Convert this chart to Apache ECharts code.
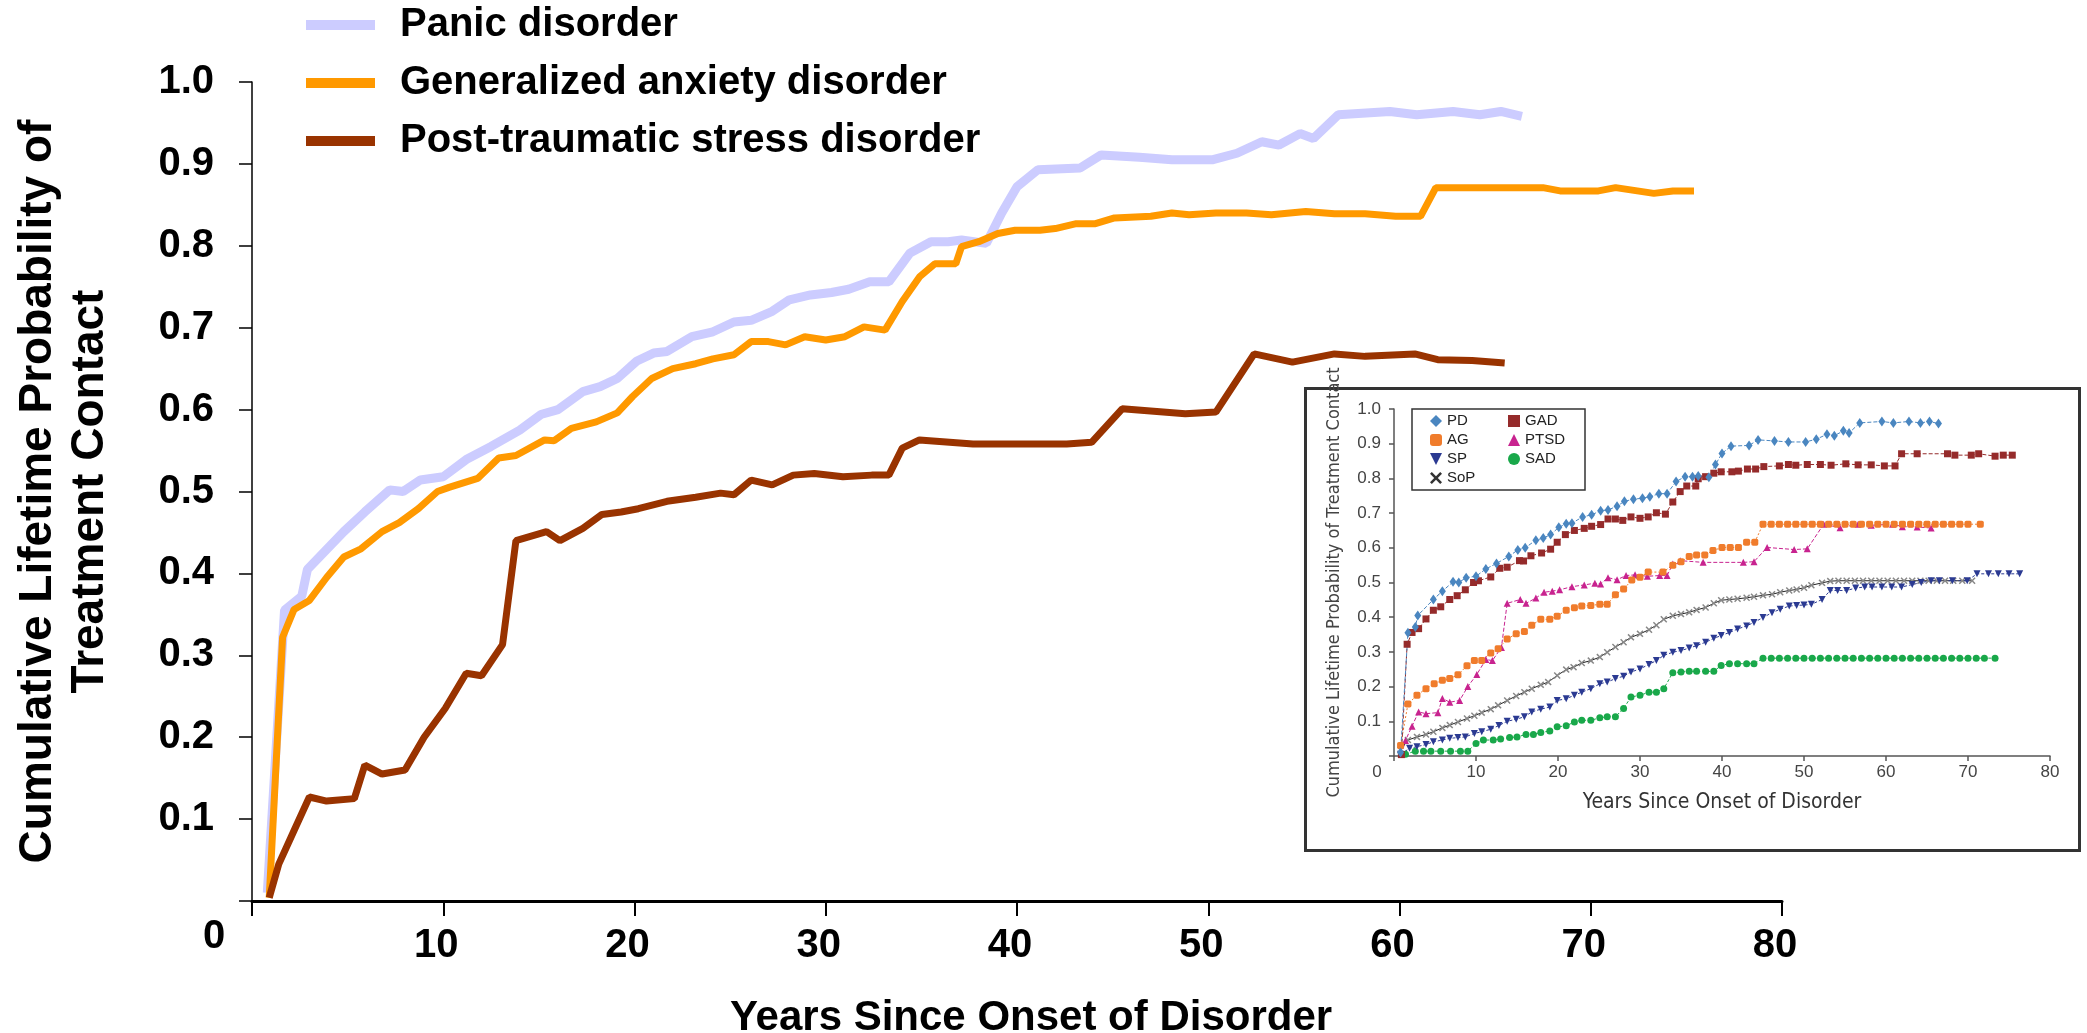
<!DOCTYPE html>
<html>
<head>
<meta charset="utf-8">
<title>Cumulative Lifetime Probability of Treatment Contact</title>
<script src="https://cdn.jsdelivr.net/npm/echarts/dist/echarts.min.js"></script>
<style>
  html, body { margin: 0; padding: 0; background: #fff; }
  #chart { width: 2087px; height: 1033px; }
</style>
</head>
<body>
<div id="chart"></div>
<script>
  // 主图数据：[年份, 累计概率]
  const panic = [[0.8,0.01],[1.7,0.355],[2.6,0.372],[2.9,0.405],[4.8,0.451],[5.9,0.475],[7.2,0.502],[7.9,0.5],[8.8,0.514],[10,0.518],[11.2,0.539],[12.5,0.555],[14,0.575],[15.1,0.594],[16,0.6],[17.3,0.622],[18.2,0.628],[19.1,0.638],[20.1,0.659],[21,0.669],[21.7,0.671],[23,0.689],[24.1,0.695],[25.2,0.707],[26.1,0.709],[27.2,0.72],[28.1,0.734],[29.2,0.74],[30.3,0.743],[31.2,0.747],[32.3,0.756],[33.3,0.756],[34.4,0.791],[35.5,0.805],[36.4,0.805],[37.1,0.807],[38.4,0.803],[39.2,0.84],[40,0.872],[41.1,0.893],[43.3,0.895],[44.4,0.911],[46.4,0.908],[48.1,0.905],[50.2,0.905],[51.5,0.913],[52.8,0.927],[53.7,0.923],[54.8,0.937],[55.5,0.931],[56.8,0.96],[59.5,0.964],[60.9,0.96],[62.8,0.964],[64.2,0.96],[65.3,0.964],[66.4,0.958]]
  const gad = [[0.9,0.004],[1.6,0.322],[2.2,0.356],[3,0.367],[3.9,0.395],[4.8,0.42],[5.7,0.43],[6.8,0.451],[7.7,0.462],[8.7,0.479],[9.7,0.5],[10.3,0.505],[11.8,0.516],[12.9,0.541],[13.8,0.544],[15.3,0.563],[15.8,0.562],[16.7,0.577],[18,0.585],[19.1,0.596],[19.9,0.616],[20.9,0.638],[22,0.65],[23.2,0.656],[24.1,0.662],[25.2,0.667],[26.1,0.683],[27,0.683],[27.9,0.679],[28.9,0.689],[30,0.685],[31,0.689],[32,0.701],[33.1,0.697],[34,0.732],[34.9,0.762],[35.7,0.778],[36.8,0.778],[37.1,0.799],[38,0.805],[39,0.815],[39.9,0.819],[41.2,0.819],[42,0.821],[43.1,0.827],[44.1,0.827],[45.1,0.834],[47,0.836],[48.1,0.84],[49,0.838],[50.4,0.84],[52,0.84],[53.3,0.838],[55.1,0.842],[56.6,0.839],[58.2,0.839],[59.8,0.836],[61.1,0.836],[61.9,0.871],[63.8,0.871],[67.5,0.871],[68.4,0.867],[70.4,0.867],[71.3,0.871],[73.3,0.864],[74.3,0.867],[75.4,0.867]]
  const ptsd = [[0.9,0.004],[1.4,0.045],[2.2,0.086],[3,0.127],[3.9,0.122],[5.35,0.125],[5.9,0.166],[6.8,0.155],[8,0.16],[9,0.2],[10.1,0.235],[11.2,0.278],[12,0.275],[13.1,0.313],[13.8,0.44],[15.4,0.451],[16.1,0.44],[17.3,0.455],[18.3,0.472],[19.3,0.475],[20.2,0.479],[21.7,0.488],[23.2,0.493],[24.5,0.498],[25.2,0.496],[26.1,0.514],[27.2,0.508],[28.3,0.52],[29.4,0.522],[30.9,0.518],[32.4,0.52],[33.3,0.52],[34,0.553],[34.9,0.563],[37.7,0.558],[42.6,0.558],[43.9,0.56],[45.5,0.601],[48.8,0.595],[50.4,0.597],[52.4,0.668],[54.4,0.658],[56.6,0.668],[58.2,0.665],[60.8,0.668],[62,0.661],[63.8,0.66],[65.5,0.657]]

  // 插图（原始图片）中的其余障碍
  const ag = [[0.8,0.03],[1.7,0.15],[2.8,0.175],[3.9,0.194],[4.9,0.208],[5.9,0.218],[6.8,0.223],[7.8,0.234],[8.9,0.26],[9.8,0.275],[10.7,0.275],[11.8,0.297],[12.7,0.309],[13.8,0.337],[14.9,0.352],[15.9,0.359],[16.8,0.377],[17.9,0.394],[19,0.394],[19.9,0.403],[21,0.42],[22,0.427],[22.9,0.432],[24,0.434],[25.1,0.437],[26,0.437],[27,0.465],[28,0.481],[29,0.507],[30,0.515],[31,0.53],[32.8,0.53],[34,0.55],[35,0.56],[36,0.575],[36.9,0.579],[37.9,0.579],[38.9,0.592],[40,0.601],[41,0.601],[42,0.601],[43,0.616],[44,0.616],[45,0.668],[46,0.668],[47,0.668],[48,0.668],[49,0.668],[50,0.668],[51,0.668],[52,0.668],[53,0.668],[54,0.668],[55,0.668],[56,0.668],[57,0.668],[58,0.668],[59,0.668],[60,0.668],[61,0.668],[62,0.668],[63,0.668],[64,0.668],[65,0.668],[66,0.668],[67,0.668],[68,0.668],[69,0.668],[70,0.668],[71.5,0.668]]
  const sp = [[0.8,0.005],[1.9,0.022],[2.8,0.027],[3.9,0.033],[4.8,0.041],[5.9,0.046],[6.8,0.051],[7.8,0.053],[8.7,0.055],[9.8,0.065],[10.7,0.07],[11.8,0.077],[12.8,0.088],[13.8,0.1],[14.9,0.106],[15.9,0.113],[16.8,0.127],[17.9,0.135],[19,0.141],[19.9,0.16],[21,0.165],[22,0.175],[22.9,0.184],[24,0.194],[25.1,0.208],[26,0.213],[27,0.223],[28,0.23],[28.9,0.242],[30,0.251],[31.1,0.264],[32,0.275],[32.9,0.29],[34,0.299],[35,0.304],[36,0.311],[36.9,0.318],[38,0.328],[39,0.339],[39.9,0.347],[40.9,0.356],[41.9,0.366],[43,0.375],[43.9,0.385],[45,0.399],[46.1,0.413],[47.1,0.423],[48.2,0.432],[49.1,0.434],[50,0.435],[50.9,0.437],[52.2,0.451],[53.2,0.477],[54.1,0.477],[55.2,0.477],[56.3,0.484],[57.4,0.487],[58.3,0.487],[59.5,0.487],[60.7,0.487],[61.9,0.487],[63.2,0.494],[64.3,0.5],[65.5,0.505],[66.5,0.505],[68.1,0.505],[69.9,0.505],[71.1,0.525],[72.5,0.525],[73.7,0.525],[75,0.525],[76.3,0.525]]
  const sop = [[0.8,0.017],[1.7,0.046],[2.8,0.055],[3.9,0.062],[4.8,0.07],[5.9,0.081],[6.8,0.089],[7.8,0.098],[8.9,0.108],[9.8,0.116],[10.7,0.125],[11.8,0.135],[12.7,0.146],[13.8,0.16],[14.9,0.173],[15.9,0.184],[16.8,0.194],[17.9,0.205],[18.8,0.213],[19.9,0.232],[21,0.249],[21.9,0.256],[22.9,0.268],[24,0.275],[25.1,0.285],[26,0.299],[27,0.314],[28,0.328],[28.9,0.342],[30,0.352],[31.1,0.364],[32,0.377],[32.9,0.394],[34,0.404],[35,0.409],[36,0.414],[36.9,0.421],[38,0.428],[39,0.44],[39.9,0.449],[40.9,0.451],[41.9,0.453],[43,0.456],[43.9,0.459],[45,0.463],[46.1,0.466],[47.1,0.472],[48.2,0.477],[49.1,0.48],[50,0.485],[50.9,0.492],[52.2,0.499],[53.2,0.504],[54.2,0.505],[55.2,0.505],[56.2,0.505],[57.2,0.505],[58.2,0.505],[59.2,0.505],[60.2,0.505],[61.2,0.505],[62.2,0.505],[63.2,0.505],[64.2,0.505],[65.2,0.505],[66.2,0.505],[67.2,0.505],[68.2,0.505],[69.3,0.505],[70.5,0.505]]
  const sad = [[1.4,0.005],[2.6,0.014],[3.6,0.014],[4.5,0.014],[5.7,0.014],[6.9,0.014],[8.1,0.014],[9,0.014],[10,0.036],[10.9,0.046],[12.1,0.046],[13,0.049],[14.1,0.053],[15,0.055],[16.1,0.062],[17,0.062],[17.9,0.068],[19,0.072],[19.9,0.084],[21,0.087],[22,0.098],[22.9,0.103],[24,0.103],[25.1,0.11],[26,0.113],[27,0.113],[28,0.137],[28.9,0.17],[30,0.175],[31.1,0.184],[32,0.184],[32.9,0.194],[34,0.24],[35,0.242],[36,0.244],[36.9,0.244],[38,0.244],[39,0.244],[39.9,0.261],[40.9,0.266],[41.9,0.266],[43,0.266],[43.9,0.266],[45,0.282],[46,0.282],[47,0.282],[48,0.282],[49,0.282],[50,0.282],[51,0.282],[52,0.282],[53,0.282],[54,0.282],[55,0.282],[56,0.282],[57,0.282],[58,0.282],[59,0.282],[60,0.282],[61,0.282],[62,0.282],[63,0.282],[64,0.282],[65,0.282],[66,0.282],[67,0.282],[68,0.282],[69,0.282],[70,0.282],[71,0.282],[72,0.282],[73.3,0.282]]

  const mainNames = ['Panic disorder', 'Generalized anxiety disorder', 'Post-traumatic stress disorder']
  const insetNames = ['PD', 'AG', 'SP', 'SoP', 'GAD', 'PTSD', 'SAD']

  const FONT = "'Liberation Sans', Arial, sans-serif"
  const NARROW = "'Liberation Sans Narrow', 'DejaVu Sans Condensed', sans-serif"
  // 倒三角和 X 形标记
  const downTri = 'path://M0,0L10,0L5,10Z'
  const xMark = 'path://M0,1.5L1.5,0L5,3.5L8.5,0L10,1.5L6.5,5L10,8.5L8.5,10L5,6.5L1.5,10L0,8.5L3.5,5Z'

  // 插图折线的公共样式
  function insetLine (name, data, color, symbol, size, dash) {
    return {
      name: name,
      type: 'line',
      xAxisIndex: 1,
      yAxisIndex: 1,
      data: data,
      symbol: symbol,
      symbolSize: size,
      showSymbol: true,
      itemStyle: { color: color },
      lineStyle: { color: color, width: 1, type: dash },
      z: 5
    }
  }

  const option = {
    animation: false,
    backgroundColor: '#fff',
    textStyle: { fontFamily: FONT },
    //插图外框
    graphic: [{
      type: 'rect',
      shape: { x: 1305.5, y: 388.5, width: 774, height: 462 },
      style: { fill: '#fff', stroke: '#333', lineWidth: 3 },
      z: -1
    }],
    legend: [
      {
        orient: 'vertical',
        left: 306,
        top: 5,
        padding: 0,
        itemWidth: 69,
        itemHeight: 10,
        itemGap: 18,
        icon: 'rect',
        textStyle: { fontSize: 40, fontWeight: 'bold', color: '#000', lineHeight: 40, padding: [0, 0, 0, 20], fontFamily: FONT },
        data: mainNames
      },
      {
        orient: 'vertical',
        left: 1412,
        top: 409,
        height: 80,
        padding: [4, 2, 4, 18],
        itemWidth: 12,
        itemHeight: 12,
        itemGap: 3,
        borderColor: '#333',
        borderWidth: 1.5,
        textStyle: { fontSize: 15, color: '#222', width: 58, lineHeight: 16, fontFamily: FONT },
        data: [
          { name: 'PD', icon: 'diamond' },
          { name: 'AG', icon: 'roundRect' },
          { name: 'SP', icon: downTri },
          { name: 'SoP', icon: xMark, itemStyle: { color: '#333' } },
          { name: 'GAD', icon: 'rect' },
          { name: 'PTSD', icon: 'triangle' },
          { name: 'SAD', icon: 'circle' }
        ]
      }
    ],
    grid: [
      { left: 252, top: 82, width: 1530, height: 819, containLabel: false, outerBoundsMode: 'none' },
      { left: 1394, top: 409, width: 656, height: 347, containLabel: false, outerBoundsMode: 'none' }
    ],
    xAxis: [
      {
        type: 'value',
        gridIndex: 0,
        min: 0,
        max: 80,
        interval: 10,
        name: 'Years Since Onset of Disorder',
        nameLocation: 'middle',
        nameGap: 96,
        nameMoveOverlap: false,
        nameTextStyle: { fontSize: 42, fontWeight: 'bold', color: '#000', padding: [0, 0, 0, 28], fontFamily: FONT },
        axisLine: { lineStyle: { color: '#000', width: 3 } },
        axisTick: { length: 15, lineStyle: { color: '#000', width: 2 } },
        splitLine: { show: false },
        axisLabel: {
          margin: 25,
          fontSize: 40,
          fontWeight: 'bold',
          color: '#000',
          fontFamily: FONT,
          padding: [0, 14, 0, 0],
          formatter: function (v) { return v === 0 ? '{z|0}' : String(v) },
          rich: { z: { fontSize: 40, fontWeight: 'bold', color: '#000', fontFamily: FONT, lineHeight: 22, padding: [0, 62, 0, 0] } }
        }
      },
      {
        type: 'value',
        gridIndex: 1,
        min: 0,
        max: 80,
        interval: 10,
        name: 'Years Since Onset of Disorder',
        nameLocation: 'middle',
        nameGap: 36,
        nameMoveOverlap: false,
        nameTextStyle: { fontSize: 21, color: '#333', fontFamily: NARROW },
        axisLine: { lineStyle: { color: '#555', width: 1.5 } },
        axisTick: { length: 5, lineStyle: { color: '#555', width: 1.5 } },
        splitLine: { show: false },
        axisLabel: {
          margin: 8,
          fontSize: 17,
          color: '#444',
          fontFamily: FONT,
          formatter: function (v) { return v === 0 ? '{z|0}' : String(v) },
          rich: { z: { fontSize: 17, color: '#444', fontFamily: FONT, padding: [0, 34, 0, 0] } }
        }
      }
    ],
    yAxis: [
      {
        type: 'value',
        gridIndex: 0,
        min: 0,
        max: 1,
        interval: 0.1,
        name: 'Cumulative Lifetime Probability of\nTreatment Contact',
        nameLocation: 'middle',
        nameRotate: 90,
        nameGap: 136,
        nameMoveOverlap: false,
        nameTextStyle: { fontSize: 46, fontWeight: 'bold', color: '#000', lineHeight: 52, align: 'center', fontFamily: FONT },
        axisLine: { show: true, lineStyle: { color: '#000', width: 1.5 } },
        axisTick: { show: true, length: 13, lineStyle: { color: '#000', width: 1.5 } },
        splitLine: { show: false },
        axisLabel: {
          margin: 38,
          fontSize: 40,
          fontWeight: 'bold',
          color: '#000',
          fontFamily: FONT,
          formatter: function (v) { return v === 0 ? '' : v.toFixed(1) }
        }
      },
      {
        type: 'value',
        gridIndex: 1,
        min: 0,
        max: 1,
        interval: 0.1,
        name: 'Cumulative Lifetime Probability of Treatment Contact',
        nameLocation: 'middle',
        nameRotate: 90,
        nameGap: 51,
        nameMoveOverlap: false,
        nameTextStyle: { fontSize: 18, color: '#444', fontFamily: NARROW },
        axisLine: { show: true, lineStyle: { color: '#555', width: 1.5 } },
        axisTick: { show: true, length: 5, lineStyle: { color: '#555', width: 1.5 } },
        splitLine: { show: false },
        axisLabel: {
          margin: 13,
          fontSize: 17,
          color: '#444',
          fontFamily: FONT,
          formatter: function (v) { return v === 0 ? '' : v.toFixed(1) }
        }
      }
    ],
    series: [
      //主图三条粗线
      { name: mainNames[0], type: 'line', data: panic, showSymbol: false, symbol: 'none', itemStyle: { color: '#ccccff' }, lineStyle: { color: '#ccccff', width: 9 }, z: 2 },
      { name: mainNames[1], type: 'line', data: gad, showSymbol: false, symbol: 'none', itemStyle: { color: '#ff9900' }, lineStyle: { color: '#ff9900', width: 7 }, z: 3 },
      { name: mainNames[2], type: 'line', data: ptsd, showSymbol: false, symbol: 'none', itemStyle: { color: '#993300' }, lineStyle: { color: '#993300', width: 7 }, z: 4 },
      //插图
      insetLine(insetNames[3], sop, '#888', xMark, 7, 'solid'),
      insetLine(insetNames[6], sad, '#19a84a', 'circle', 7, [3, 2]),
      insetLine(insetNames[2], sp, '#2b3a92', downTri, 7, [3, 2]),
      insetLine(insetNames[5], ptsd, '#c8238f', 'triangle', 7, [4, 2]),
      insetLine(insetNames[1], ag, '#f07c2c', 'roundRect', 7, [2, 2]),
      insetLine(insetNames[4], gad, '#952b2b', 'rect', 7, [4, 2]),
      insetLine(insetNames[0], panic, '#4a86c0', 'diamond', [7, 10], [4, 2])
    ]
  }
  // SoP 的连线是黑色实线
  option.series[3].lineStyle.color = '#222'

  let myChart = echarts.init(document.getElementById('chart'))
  myChart.setOption(option)
</script>
</body>
</html>
